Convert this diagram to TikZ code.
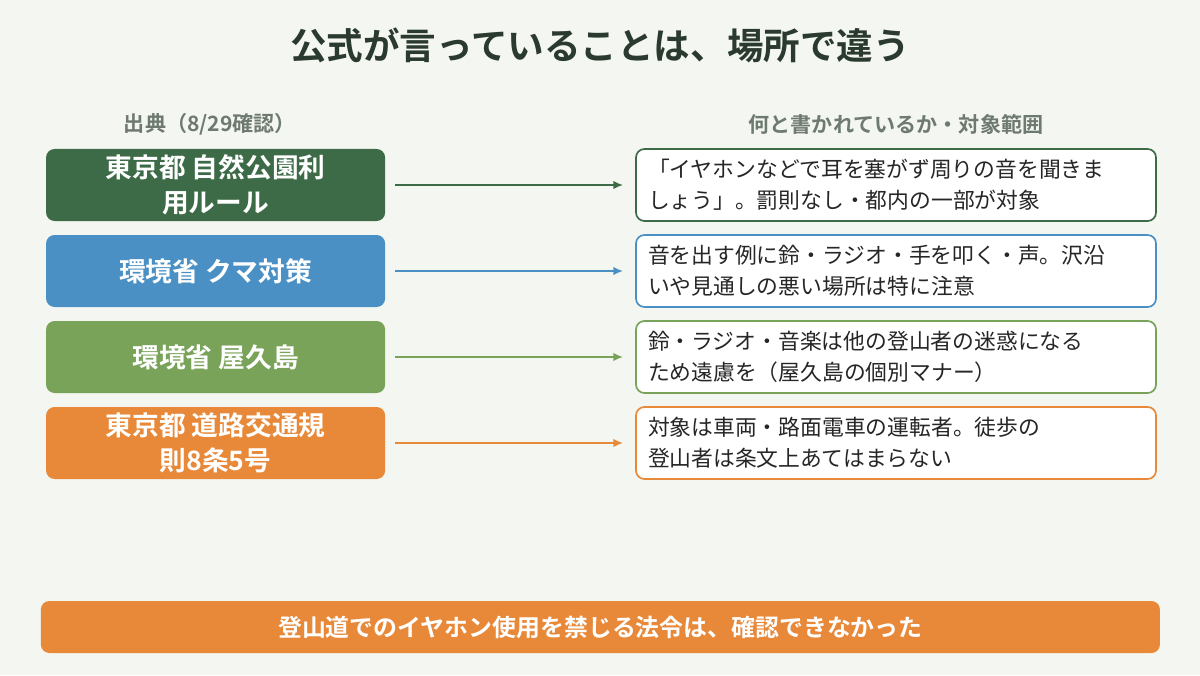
\documentclass[tikz,border=0pt]{standalone}
\usepackage{fontspec}
\newfontfamily\cjk{Noto Sans CJK JP}
\newfontfamily\cjkb{Noto Sans CJK JP Bold}
\usetikzlibrary{positioning,arrows.meta}
\definecolor{bgc}{HTML}{F4F6F1}
\definecolor{titc}{HTML}{2B3A2E}
\definecolor{grayc}{HTML}{6E7A70}
\definecolor{dgreen}{HTML}{3D6B47}
\definecolor{blue}{HTML}{4A90C4}
\definecolor{lgreen}{HTML}{7AA35A}
\definecolor{orange}{HTML}{E8893A}
\begin{document}
\begin{tikzpicture}[
 src/.style={fill=#1,draw=none,rounded corners=6pt,minimum width=8.475cm,minimum height=1.8cm,
  text=white,align=center,font=\cjkb\fontsize{19}{25}\selectfont},
 desc/.style={fill=white,draw=#1,line width=1.2pt,rounded corners=6pt,minimum width=13cm,minimum height=1.8cm,
  text=black!85,align=left,text width=12.4cm,font=\cjk\fontsize{15.5}{22}\selectfont},
 link/.style={draw=#1,line width=1.3pt,-{Latex[length=7pt,width=6pt]}},
 ]
 \useasboundingbox[fill=bgc] (0,0) rectangle (30,16.875);
 \node[font=\cjkb\fontsize{26}{30}\selectfont,text=titc] (title) at (15,15.75) {公式が言っていることは、場所で違う};
 \node[font=\cjkb\fontsize{15}{18}\selectfont,text=grayc] (hsrc) at (5.25,13.77) {出典（8/29確認）};
 \node[font=\cjkb\fontsize{15}{18}\selectfont,text=grayc] (hdesc) at (22.4,13.77) {何と書かれているか・対象範囲};
 % sources
 \node[src=dgreen] (s1) at (5.39,12.25) {東京都 自然公園利\\用ルール};
 \node[src=blue] (s2) at (5.39,10.1) {環境省 クマ対策};
 \node[src=lgreen] (s3) at (5.39,7.95) {環境省 屋久島};
 \node[src=orange] (s4) at (5.39,5.8) {東京都 道路交通規\\則8条5号};
 % descriptions
 \node[desc=dgreen] (d1) at (22.4,12.25) {「イヤホンなどで耳を塞がず周りの音を聞きま\\しょう」。罰則なし・都内の一部が対象};
 \node[desc=blue] (d2) at (22.4,10.1) {音を出す例に鈴・ラジオ・手を叩く・声。沢沿\\いや見通しの悪い場所は特に注意};
 \node[desc=lgreen] (d3) at (22.4,7.95) {鈴・ラジオ・音楽は他の登山者の迷惑になる\\ため遠慮を（屋久島の個別マナー）};
 \node[desc=orange] (d4) at (22.4,5.8) {対象は車両・路面電車の運転者。徒歩の\\登山者は条文上あてはまらない};
 \foreach \i/\c in {1/dgreen,2/blue,3/lgreen,4/orange}
  \draw[link=\c] ([xshift=0.25cm]s\i.east) -- ([xshift=-0.3cm]d\i.west);
 % conclusion
 \node[fill=orange,rounded corners=6pt,minimum width=27.975cm,minimum height=1.3cm,text=white,
  font=\cjkb\fontsize{17}{20}\selectfont] (concl) at (15.01,1.2) {登山道でのイヤホン使用を禁じる法令は、確認できなかった};
\end{tikzpicture}
\end{document}
